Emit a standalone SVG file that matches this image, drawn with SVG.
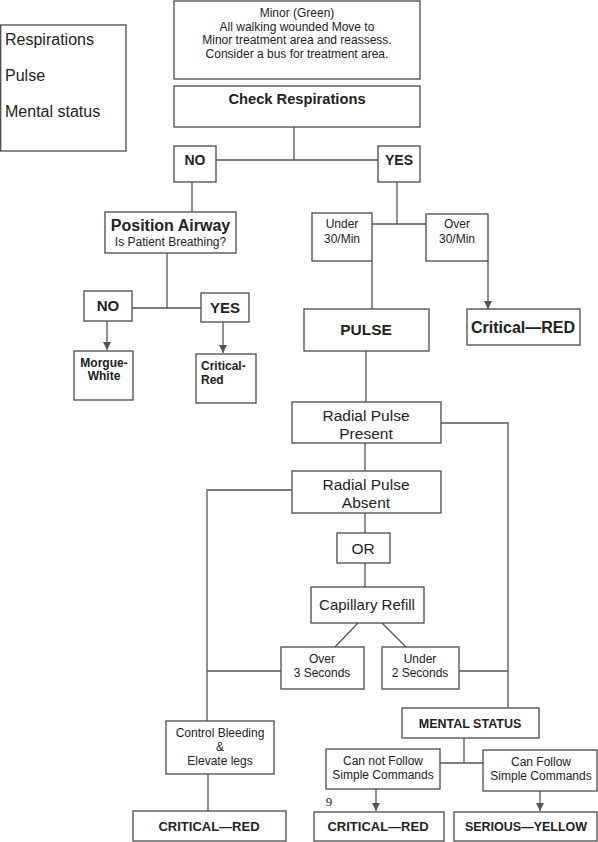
<svg xmlns="http://www.w3.org/2000/svg" width="598" height="842" viewBox="0 0 598 842">
<style>
.box{fill:#fff;stroke:#4a4a4a;stroke-width:1.3}
.ln{fill:none;stroke:#555;stroke-width:1.3}
text{font-family:"Liberation Sans",Arial,sans-serif;fill:#222;text-anchor:middle}
.b{font-weight:bold}
.l{text-anchor:start}
</style>
<defs>
<marker id="arr" markerUnits="userSpaceOnUse" markerWidth="8" markerHeight="8" refX="8" refY="4" orient="auto">
<path d="M0,0 L8,4 L0,8 Z" fill="#555"/>
</marker>
</defs>
<rect width="598" height="842" fill="#fff"/>
<g id="connectors">
<path class="ln" d="M294,127 V160 M216,160 H378"/>
<path class="ln" d="M192,182 V212"/>
<path class="ln" d="M167,253 V308 M132,308 H201"/>
<path class="ln" d="M107,321 V350" marker-end="url(#arr)"/>
<path class="ln" d="M223,322 V353" marker-end="url(#arr)"/>
<path class="ln" d="M397,182 V224 M372,224 H426"/>
<path class="ln" d="M372,261 V309"/>
<path class="ln" d="M488,261 V309" marker-end="url(#arr)"/>
<path class="ln" d="M366,351 V402"/>
<path class="ln" d="M365,443 V471"/>
<path class="ln" d="M441,423 H508 V708"/>
<path class="ln" d="M292,490 H207 V721"/>
<path class="ln" d="M365,513 V533 M365,563 V587"/>
<path class="ln" d="M358,623 L335,647 M382,623 L406,647"/>
<path class="ln" d="M281,671 H207"/>
<path class="ln" d="M459,671 H508"/>
<path class="ln" d="M208,774 V811"/>
<path class="ln" d="M464,738 V763 M440,763 H483"/>
<path class="ln" d="M376,789 V811" marker-end="url(#arr)"/>
<path class="ln" d="M540,791 V811" marker-end="url(#arr)"/>
</g>
<g id="legend">
<rect class="box" x="0.7" y="25" width="125.3" height="126"/>
<text class="l" x="5" y="45" font-size="16">Respirations</text>
<text class="l" x="5" y="81" font-size="16">Pulse</text>
<text class="l" x="5" y="117" font-size="16">Mental status</text>
</g>
<g id="minor">
<rect class="box" x="174" y="1" width="246" height="78"/>
<text x="297" y="17" font-size="12">Minor (Green)</text>
<text x="297" y="30.5" font-size="12">All walking wounded Move to</text>
<text x="297" y="44" font-size="12">Minor treatment area and reassess.</text>
<text x="297" y="57.5" font-size="12">Consider a bus for treatment area.</text>
</g>
<g id="check-resp">
<rect class="box" x="174" y="86" width="246" height="41"/>
<text class="b" x="297" y="104" font-size="14.7">Check Respirations</text>
</g>
<g id="no1">
<rect class="box" x="174" y="146" width="42" height="36"/>
<text class="b" x="195" y="165" font-size="14">NO</text>
</g>
<g id="yes1">
<rect class="box" x="378" y="146" width="42" height="36"/>
<text class="b" x="399" y="165" font-size="14">YES</text>
</g>
<g id="position-airway">
<rect class="box" x="105" y="212" width="131" height="41"/>
<text class="b" x="170.5" y="231" font-size="16">Position Airway</text>
<text x="170.5" y="246" font-size="12">Is Patient Breathing?</text>
</g>
<g id="no2">
<rect class="box" x="84" y="291" width="48" height="30"/>
<text class="b" x="108" y="311" font-size="15">NO</text>
</g>
<g id="yes2">
<rect class="box" x="201" y="293" width="48" height="29"/>
<text class="b" x="225" y="313" font-size="15">YES</text>
</g>
<g id="morgue">
<rect class="box" x="74" y="351" width="59" height="49"/>
<text class="b" x="104" y="367" font-size="12">Morgue-</text>
<text class="b" x="104" y="380" font-size="12">White</text>
</g>
<g id="critical-red-small">
<rect class="box" x="196" y="354" width="60" height="49"/>
<text class="b l" x="201" y="370" font-size="12">Critical-</text>
<text class="b l" x="201" y="384" font-size="12">Red</text>
</g>
<g id="under30">
<rect class="box" x="312" y="213" width="60" height="48"/>
<text x="342" y="228" font-size="12">Under</text>
<text x="342" y="243" font-size="12">30/Min</text>
</g>
<g id="over30">
<rect class="box" x="426" y="214" width="62" height="47"/>
<text x="457" y="228" font-size="12">Over</text>
<text x="457" y="243" font-size="12">30/Min</text>
</g>
<g id="pulse">
<rect class="box" x="304" y="309" width="125" height="42"/>
<text class="b" x="366" y="335" font-size="15.5">PULSE</text>
</g>
<g id="critical-red-1">
<rect class="box" x="467" y="309" width="113" height="36"/>
<text class="b" x="523" y="333" font-size="16">Critical—RED</text>
</g>
<g id="radial-present">
<rect class="box" x="292" y="402" width="149" height="41"/>
<text x="366" y="421" font-size="15.5">Radial Pulse</text>
<text x="366" y="439" font-size="15.5">Present</text>
</g>
<g id="radial-absent">
<rect class="box" x="292" y="471" width="149" height="42"/>
<text x="366" y="490" font-size="15.5">Radial Pulse</text>
<text x="366" y="508" font-size="15.5">Absent</text>
</g>
<g id="or">
<rect class="box" x="337" y="533" width="53" height="30"/>
<text x="363" y="554" font-size="15.5">OR</text>
</g>
<g id="capillary">
<rect class="box" x="311" y="587" width="113" height="36"/>
<text x="367" y="610" font-size="15">Capillary Refill</text>
</g>
<g id="over3">
<rect class="box" x="281" y="647" width="83" height="42"/>
<text x="322" y="663" font-size="12">Over</text>
<text x="322" y="677" font-size="12">3 Seconds</text>
</g>
<g id="under2">
<rect class="box" x="382" y="647" width="77" height="42"/>
<text x="420" y="663" font-size="12">Under</text>
<text x="420" y="677" font-size="12">2 Seconds</text>
</g>
<g id="control-bleeding">
<rect class="box" x="166" y="721" width="108" height="53"/>
<text x="220" y="737" font-size="12">Control Bleeding</text>
<text x="220" y="751" font-size="12">&amp;</text>
<text x="220" y="765" font-size="12">Elevate legs</text>
</g>
<g id="mental-status">
<rect class="box" x="402" y="708" width="137" height="30"/>
<text class="b" x="470" y="728" font-size="12.5">MENTAL STATUS</text>
</g>
<g id="cannot-follow">
<rect class="box" x="326" y="749" width="114" height="40"/>
<text x="383" y="765" font-size="12">Can not Follow</text>
<text x="383" y="779" font-size="12">Simple Commands</text>
</g>
<g id="can-follow">
<rect class="box" x="483" y="750" width="114" height="41"/>
<text x="541" y="766" font-size="12">Can Follow</text>
<text x="541" y="780" font-size="12">Simple Commands</text>
</g>
<g id="critical-red-left">
<rect class="box" x="133" y="811" width="153" height="30"/>
<text class="b" x="209" y="831" font-size="13">CRITICAL—RED</text>
</g>
<g id="critical-red-mid">
<rect class="box" x="314" y="812" width="130" height="29"/>
<text class="b" x="378" y="831" font-size="13">CRITICAL—RED</text>
</g>
<g id="serious-yellow">
<rect class="box" x="454" y="812" width="143" height="29"/>
<text class="b" x="526" y="831" font-size="12.5">SERIOUS—YELLOW</text>
</g>
<text x="329" y="806" font-size="13" style="font-family:'Liberation Serif',serif">9</text>
</svg>
